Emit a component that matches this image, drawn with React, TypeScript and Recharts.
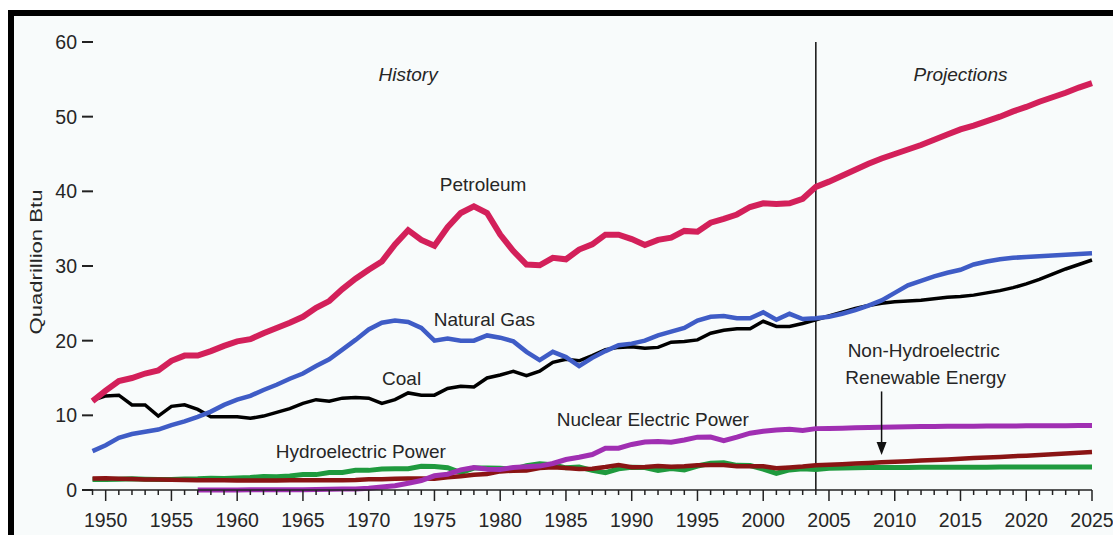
import React from 'react';
import {
  LineChart, Line, XAxis, YAxis, ReferenceLine, ReferenceDot,
} from 'recharts';

// years 1949..2025 (history through 2004, projections after)
const years = [
  1949, 1950, 1951, 1952, 1953, 1954, 1955, 1956, 1957, 1958, 1959,
  1960, 1961, 1962, 1963, 1964, 1965, 1966, 1967, 1968, 1969,
  1970, 1971, 1972, 1973, 1974, 1975, 1976, 1977, 1978, 1979,
  1980, 1981, 1982, 1983, 1984, 1985, 1986, 1987, 1988, 1989,
  1990, 1991, 1992, 1993, 1994, 1995, 1996, 1997, 1998, 1999,
  2000, 2001, 2002, 2003, 2004, 2005, 2006, 2007, 2008, 2009,
  2010, 2011, 2012, 2013, 2014, 2015, 2016, 2017, 2018, 2019,
  2020, 2021, 2022, 2023, 2024, 2025,
];

const petroleum = [
  11.9, 13.3, 14.6, 15.0, 15.6, 16.0, 17.3, 18.0, 18.0, 18.6, 19.3,
  19.9, 20.2, 21.0, 21.7, 22.4, 23.2, 24.4, 25.3, 26.9, 28.3,
  29.5, 30.6, 32.9, 34.8, 33.5, 32.7, 35.2, 37.1, 38.0, 37.1,
  34.2, 32.0, 30.2, 30.1, 31.1, 30.9, 32.2, 32.9, 34.2, 34.2,
  33.6, 32.8, 33.5, 33.8, 34.7, 34.6, 35.8, 36.3, 36.9, 37.9,
  38.4, 38.3, 38.4, 39.0, 40.6, 41.3, 42.1, 42.9, 43.7, 44.4,
  45.0, 45.6, 46.2, 46.9, 47.6, 48.3, 48.8, 49.4, 50.0, 50.7,
  51.3, 52.0, 52.6, 53.2, 53.9, 54.5,
];

const naturalGas = [
  5.2, 6.0, 7.0, 7.5, 7.8, 8.1, 8.7, 9.2, 9.8, 10.5, 11.4,
  12.1, 12.6, 13.4, 14.1, 14.9, 15.6, 16.6, 17.5, 18.8, 20.1,
  21.5, 22.4, 22.7, 22.5, 21.7, 20.0, 20.3, 20.0, 20.0, 20.7,
  20.4, 19.9, 18.5, 17.4, 18.5, 17.8, 16.6, 17.7, 18.6, 19.4,
  19.6, 20.0, 20.7, 21.2, 21.7, 22.7, 23.2, 23.3, 23.0, 23.0,
  23.8, 22.8, 23.6, 22.9, 23.0, 23.2, 23.6, 24.1, 24.7, 25.4,
  26.4, 27.4, 28.0, 28.6, 29.1, 29.5, 30.2, 30.6, 30.9, 31.1,
  31.2, 31.3, 31.4, 31.5, 31.6, 31.7,
];

const coal = [
  12.0, 12.6, 12.7, 11.4, 11.4, 9.9, 11.2, 11.4, 10.8, 9.8, 9.8,
  9.8, 9.6, 9.9, 10.4, 10.9, 11.6, 12.1, 11.9, 12.3, 12.4,
  12.3, 11.6, 12.1, 13.0, 12.7, 12.7, 13.6, 13.9, 13.8, 15.0,
  15.4, 15.9, 15.3, 15.9, 17.1, 17.5, 17.3, 18.0, 18.8, 19.1,
  19.2, 19.0, 19.1, 19.8, 19.9, 20.1, 21.0, 21.4, 21.6, 21.6,
  22.6, 21.9, 21.9, 22.3, 22.8, 23.3, 23.8, 24.3, 24.7, 25.0,
  25.2, 25.3, 25.4, 25.6, 25.8, 25.9, 26.1, 26.4, 26.7, 27.1,
  27.6, 28.2, 28.9, 29.6, 30.2, 30.8,
];

const nuclear = [
  null, null, null, null, null, null, null, null, 0.0, 0.0, 0.0,
  0.01, 0.02, 0.03, 0.04, 0.04, 0.04, 0.06, 0.09, 0.14, 0.15,
  0.24, 0.41, 0.58, 0.91, 1.27, 1.9, 2.11, 2.7, 3.02, 2.78,
  2.74, 3.01, 3.13, 3.2, 3.55, 4.08, 4.38, 4.75, 5.59, 5.6,
  6.1, 6.42, 6.48, 6.41, 6.69, 7.08, 7.09, 6.6, 7.07, 7.61,
  7.86, 8.03, 8.14, 7.96, 8.22, 8.23, 8.27, 8.33, 8.38, 8.42,
  8.45, 8.47, 8.49, 8.51, 8.53, 8.54, 8.55, 8.56, 8.57, 8.58,
  8.59, 8.6, 8.61, 8.62, 8.63, 8.64,
];

const hydro = [
  1.42, 1.42, 1.45, 1.5, 1.44, 1.39, 1.41, 1.49, 1.52, 1.59, 1.55,
  1.61, 1.66, 1.82, 1.77, 1.89, 2.06, 2.06, 2.35, 2.35, 2.65,
  2.63, 2.82, 2.86, 2.86, 3.18, 3.15, 2.98, 2.33, 2.94, 2.93,
  2.9, 2.76, 3.27, 3.53, 3.39, 2.97, 3.07, 2.63, 2.33, 2.84,
  3.05, 3.02, 2.62, 2.89, 2.68, 3.21, 3.59, 3.64, 3.3, 3.27,
  2.81, 2.24, 2.69, 2.83, 2.73, 2.9, 2.96, 2.98, 3.0, 3.01,
  3.02, 3.03, 3.04, 3.04, 3.05, 3.05, 3.06, 3.06, 3.07, 3.07,
  3.08, 3.08, 3.08, 3.09, 3.09, 3.09,
];

const renewable = [
  1.55, 1.56, 1.52, 1.48, 1.42, 1.39, 1.36, 1.33, 1.3, 1.3, 1.3,
  1.28, 1.26, 1.26, 1.27, 1.3, 1.31, 1.31, 1.29, 1.3, 1.33,
  1.43, 1.43, 1.5, 1.53, 1.54, 1.5, 1.71, 1.84, 2.04, 2.15,
  2.49, 2.59, 2.62, 2.93, 3.03, 2.96, 2.82, 2.85, 3.08, 3.35,
  3.05, 3.08, 3.2, 3.12, 3.17, 3.31, 3.36, 3.36, 3.17, 3.18,
  3.18, 2.93, 3.02, 3.14, 3.3, 3.38, 3.46, 3.55, 3.62, 3.71,
  3.79, 3.86, 3.95, 4.03, 4.1, 4.19, 4.27, 4.35, 4.43, 4.52,
  4.6, 4.7, 4.79, 4.89, 4.99, 5.09,
];

const yTicks = [0, 10, 20, 30, 40, 50, 60];

const data = years.map((year, i) => ({
  year,
  petroleum: petroleum[i],
  naturalGas: naturalGas[i],
  coal: coal[i],
  nuclear: nuclear[i],
  hydro: hydro[i],
  renewable: renewable[i],
}));

const FONT = '"Liberation Sans", Arial, Helvetica, sans-serif';
const INK = '#262626';

function XTick({ x, y, payload }: any) {
  const major = payload.value % 5 === 0;
  return (
    <g>
      <line x1={x} y1={y} x2={x} y2={y + (major ? 11 : 5)} stroke="#222" strokeWidth={1.5} />
      {major && (
        <text x={x} y={y + 37} textAnchor="middle" fontFamily={FONT} fontSize={19.5} fill={INK}>
          {payload.value}
        </text>
      )}
    </g>
  );
}

function YTick({ x, y, payload }: any) {
  return (
    <g>
      <text x={x - 5} y={y + 7} textAnchor="end" fontFamily={FONT} fontSize={19.5} fill={INK}>
        {payload.value}
      </text>
      <line x1={x} y1={y} x2={x + 11} y2={y} stroke="#222" strokeWidth={2} />
    </g>
  );
}

const note = (text: string, italic = false) => (p: any) => (
  <text
    x={p.cx}
    y={p.cy}
    textAnchor="middle"
    dominantBaseline="central"
    fontFamily={FONT}
    fontSize={19}
    fontStyle={italic ? 'italic' : 'normal'}
    fill={INK}
  >
    {text}
  </text>
);

const arrowHead = (p: any) => (
  <polygon points={`${p.cx - 5},${p.cy - 13} ${p.cx + 5},${p.cy - 13} ${p.cx},${p.cy}`} fill="#111" />
);

export default function App() {
  return (
    <div style={{ position: 'absolute', left: 0, top: 0, width: 1113, height: 535, background: '#fff', overflow: 'hidden' }}>
      <div
        style={{
          position: 'absolute', left: 8, top: 10, width: 1105, height: 525,
          borderTop: '6px solid #000', borderLeft: '6px solid #000', background: '#f8fbfb',
        }}
      />
      <div style={{ position: 'absolute', left: 0, top: 0 }}>
        <LineChart width={1113} height={535} data={data} margin={{ top: 42, right: 21, bottom: 0, left: 12 }}>
          <XAxis
            dataKey="year"
            type="number"
            domain={[1948.2, 2025]}
            ticks={years}
            interval={0}
            height={45}
            tickSize={0}
            tickMargin={0}
            tickLine={false}
            axisLine={{ stroke: '#222', strokeWidth: 1.5 }}
            tick={<XTick />}
          />
          <YAxis
            type="number"
            domain={[0, 60]}
            ticks={yTicks}
            width={70}
            tickSize={0}
            tickMargin={0}
            tickLine={false}
            axisLine={false}
            tick={<YTick />}
            label={{
              content: ({ viewBox }: any) => (
                <text
                  x={viewBox.x + 24}
                  y={viewBox.y + viewBox.height / 2 - 4}
                  transform={`rotate(-90 ${viewBox.x + 24} ${viewBox.y + viewBox.height / 2 - 4})`}
                  textAnchor="middle"
                  dominantBaseline="central"
                  fontFamily={FONT}
                  fontSize={16}
                  fill={INK}
                  textLength={145}
                  lengthAdjust="spacingAndGlyphs"
                >
                  Quadrillion Btu
                </text>
              ),
            }}
          />
          <ReferenceLine x={2004} stroke="#111" strokeWidth={1.5} />

          <Line dataKey="hydro" stroke="#1f9a3e" strokeWidth={5} dot={false} isAnimationActive={false} />
          <Line dataKey="renewable" stroke="#8a1414" strokeWidth={4.5} dot={false} isAnimationActive={false} />
          <Line dataKey="nuclear" stroke="#a02fb2" strokeWidth={5} dot={false} isAnimationActive={false} />
          <Line dataKey="coal" stroke="#000" strokeWidth={3.5} dot={false} isAnimationActive={false} />
          <Line dataKey="naturalGas" stroke="#3f5cc6" strokeWidth={4.5} dot={false} isAnimationActive={false} />
          <Line dataKey="petroleum" stroke="#d3205a" strokeWidth={6} dot={false} isAnimationActive={false} />

          <ReferenceLine segment={[{ x: 2009, y: 13.2 }, { x: 2009, y: 5.6 }]} stroke="#111" strokeWidth={1.5} />
          <ReferenceDot x={2009} y={4.7} shape={arrowHead} />

          <ReferenceDot x={1973} y={55.6} shape={note('History', true)} />
          <ReferenceDot x={2015} y={55.6} shape={note('Projections', true)} />
          <ReferenceDot x={1978.7} y={40.85} shape={note('Petroleum')} />
          <ReferenceDot x={1978.8} y={22.8} shape={note('Natural Gas')} />
          <ReferenceDot x={1972.5} y={15.0} shape={note('Coal')} />
          <ReferenceDot x={1991.6} y={9.4} shape={note('Nuclear Electric Power')} />
          <ReferenceDot x={1969.4} y={5.2} shape={note('Hydroelectric Power')} />
          <ReferenceDot x={2012.2} y={18.75} shape={note('Non-Hydroelectric')} />
          <ReferenceDot x={2012.35} y={15.1} shape={note('Renewable Energy')} />
        </LineChart>
      </div>
    </div>
  );
}
